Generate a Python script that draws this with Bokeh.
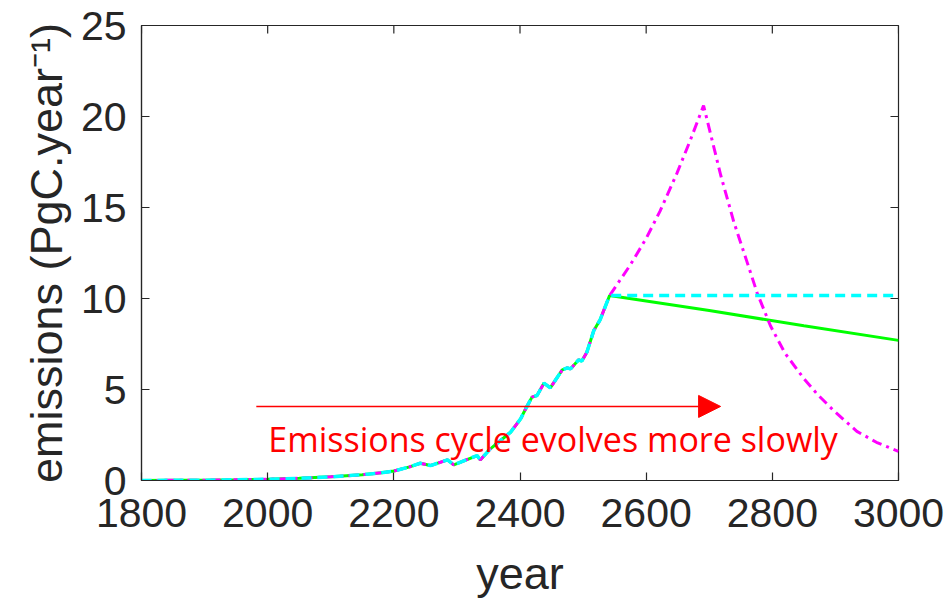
import math
from bokeh.plotting import figure
from bokeh.models import Range1d, FixedTicker, Arrow, NormalHead, Label
from bokeh.embed import file_html
from bokeh.resources import INLINE

# Past emissions shared by all three scenarios (PgC per year)
hist_year = [1800, 1850, 1900, 1950, 2000, 2050, 2100, 2150, 2180, 2200,
             2225, 2242, 2258, 2285, 2295, 2332, 2337, 2353, 2385, 2401,
             2409, 2419, 2427, 2438, 2448, 2467, 2475, 2480, 2493, 2498,
             2506, 2517, 2527, 2542]
hist_val = [0.0, 0.01, 0.02, 0.04, 0.07, 0.12, 0.2, 0.32, 0.42, 0.52,
            0.75, 0.95, 0.82, 1.13, 0.86, 1.37, 1.13, 1.74, 2.65, 3.39,
            3.94, 4.58, 4.67, 5.35, 5.09, 6.08, 6.19, 6.13, 6.63, 6.56,
            7.05, 8.24, 8.83, 10.16]

# Scenario continuations after the historical period
green_year = [2542, 2700, 2850, 3000]
green_val = [10.16, 9.34, 8.5, 7.7]

cyan_year = [2542, 3000]
cyan_val = [10.16, 10.16]

magenta_year = [2542, 2575, 2600, 2622, 2649, 2670, 2691, 2718, 2739, 2760,
                2776, 2797, 2820, 2850, 2871, 2897, 2934, 2965, 3000]
magenta_val = [10.16, 11.85, 13.3, 14.8, 16.9, 18.7, 20.6, 16.8, 14.2, 12.0,
               10.3, 8.5, 7.0, 5.6, 4.75, 3.85, 2.7, 2.1, 1.6]

x_ticks = [1800, 2000, 2200, 2400, 2600, 2800, 3000]
y_ticks = [0, 5, 10, 15, 20, 25]
x_min, x_max = 1800, 3000
y_min, y_max = 0, 25

# Annotation: arrow and caption
arrow_years = [1982, 2718]
arrow_level = 4.07
caption = "Emissions cycle evolves more slowly"
caption_year = 2001
caption_level = 2.3

AX = "#262626"
TICK_LEN = 8

p = figure(width=949, height=607, output_backend="svg", toolbar_location=None,
           x_range=Range1d(x_min, x_max), y_range=Range1d(y_min, y_max),
           min_border_left=141, min_border_right=51,
           min_border_top=25, min_border_bottom=127)
p.xgrid.visible = False
p.ygrid.visible = False
p.outline_line_color = AX
p.outline_line_width = 1.2
p.background_fill_color = "white"
p.border_fill_color = "white"

for ax, ticks in ((p.xaxis[0], x_ticks), (p.yaxis[0], y_ticks)):
    ax.ticker = FixedTicker(ticks=ticks)
    ax.minor_tick_line_color = None
    ax.major_tick_in = TICK_LEN
    ax.major_tick_out = 0
    ax.axis_line_color = AX
    ax.axis_line_width = 1.2
    ax.major_tick_line_color = AX
    ax.major_tick_line_width = 1.2
    ax.major_label_text_color = AX
    ax.major_label_text_font = "Liberation Sans"
    ax.major_label_text_font_size = "41px"
    ax.axis_label_text_font = "Liberation Sans"
    ax.axis_label_text_font_size = "45px"
    ax.axis_label_text_color = AX
    ax.axis_label_text_font_style = "normal"

p.xaxis[0].axis_label = "year"
p.xaxis[0].major_label_standoff = 18
p.xaxis[0].axis_label_standoff = 18
p.yaxis[0].axis_label = "emissions (PgC.year\u207b\u00b9)"
p.yaxis[0].major_label_standoff = 15
p.yaxis[0].axis_label_standoff = 6

# Inward ticks on the top and right edges of the box
p.ray(x=x_ticks, y=[y_max] * len(x_ticks), length=TICK_LEN, length_units="screen",
      angle=-math.pi / 2, line_color=AX, line_width=1.2)
p.ray(x=[x_max] * len(y_ticks), y=y_ticks, length=TICK_LEN, length_units="screen",
      angle=math.pi, line_color=AX, line_width=1.2)

# Historical segment drawn three times, as each scenario includes it
p.line(hist_year + green_year[1:], hist_val + green_val[1:],
       line_color="#00FF00", line_width=3)
p.line(hist_year + magenta_year[1:], hist_val + magenta_val[1:],
       line_color="#FF00FF", line_width=3, line_dash="10 5 3 5")
p.line(hist_year + cyan_year[1:], hist_val + cyan_val[1:],
       line_color="#00FFFF", line_width=3.5, line_dash="10 6")

p.add_layout(Arrow(end=NormalHead(size=22, fill_color="#FF0000", line_color="#FF0000"),
                   x_start=arrow_years[0], y_start=arrow_level,
                   x_end=arrow_years[1], y_end=arrow_level,
                   line_color="#FF0000", line_width=1.5))
p.add_layout(Label(x=caption_year, y=caption_level, text=caption,
                   text_color="#FF0000", text_font="Open Sans",
                   text_font_size="34px", text_baseline="alphabetic"))

open("out.html", "w").write(file_html(p, INLINE))
